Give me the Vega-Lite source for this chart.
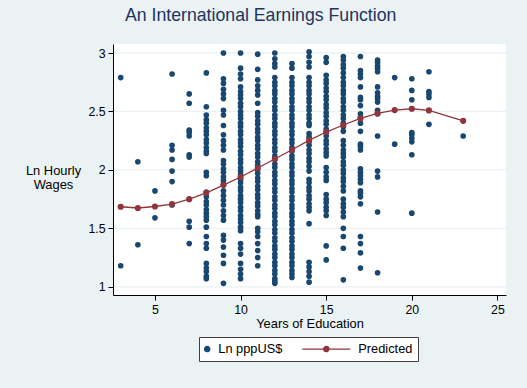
{
"$schema": "https://vega.github.io/schema/vega-lite/v6.json",
"width": 393, "height": 251,
"autosize": {"type": "none"},
"padding": {"left": 113, "top": 44, "right": 21, "bottom": 93},
"background": "#eaf2f3",
"config": {"font": "Liberation Sans", "view": {"stroke": null}},
"title": {"text": "An International Earnings Function", "anchor": "start", "frame": "group", "dx": 12, "offset": 5, "baseline": "alphabetic", "fontSize": 17.7, "fontWeight": "normal", "color": "#1c355e"},
"datasets": {
"obs": [
{"educ":3,"lnwage":2.79},{"educ":3,"lnwage":1.18},
{"educ":4,"lnwage":2.07},{"educ":4,"lnwage":1.36},
{"educ":5,"lnwage":1.82},{"educ":5,"lnwage":1.59},
{"educ":6,"lnwage":2.82},{"educ":6,"lnwage":2.21},{"educ":6,"lnwage":2.17},{"educ":6,"lnwage":2.09},{"educ":6,"lnwage":1.99},{"educ":6,"lnwage":1.90},{"educ":6,"lnwage":1.70},
{"educ":7,"lnwage":2.65},{"educ":7,"lnwage":2.57},{"educ":7,"lnwage":2.34},{"educ":7,"lnwage":2.32},{"educ":7,"lnwage":2.29},{"educ":7,"lnwage":2.13},{"educ":7,"lnwage":2.11},{"educ":7,"lnwage":1.56},{"educ":7,"lnwage":1.51},{"educ":7,"lnwage":1.37},
{"educ":8,"lnwage":2.83},{"educ":8,"lnwage":2.54},{"educ":8,"lnwage":2.47},{"educ":8,"lnwage":2.43},{"educ":8,"lnwage":2.40},{"educ":8,"lnwage":2.36},{"educ":8,"lnwage":2.33},{"educ":8,"lnwage":2.30},{"educ":8,"lnwage":2.26},{"educ":8,"lnwage":2.23},{"educ":8,"lnwage":2.19},{"educ":8,"lnwage":2.16},{"educ":8,"lnwage":2.14},{"educ":8,"lnwage":1.98},{"educ":8,"lnwage":1.95},{"educ":8,"lnwage":1.81},{"educ":8,"lnwage":1.77},{"educ":8,"lnwage":1.73},{"educ":8,"lnwage":1.70},{"educ":8,"lnwage":1.66},{"educ":8,"lnwage":1.63},{"educ":8,"lnwage":1.60},{"educ":8,"lnwage":1.57},{"educ":8,"lnwage":1.51},{"educ":8,"lnwage":1.43},{"educ":8,"lnwage":1.37},{"educ":8,"lnwage":1.33},{"educ":8,"lnwage":1.20},{"educ":8,"lnwage":1.16},{"educ":8,"lnwage":1.13},{"educ":8,"lnwage":1.09},{"educ":8,"lnwage":1.07},
{"educ":9,"lnwage":3.00},{"educ":9,"lnwage":2.78},{"educ":9,"lnwage":2.74},{"educ":9,"lnwage":2.69},{"educ":9,"lnwage":2.65},{"educ":9,"lnwage":2.61},{"educ":9,"lnwage":2.51},{"educ":9,"lnwage":2.47},{"educ":9,"lnwage":2.38},{"educ":9,"lnwage":2.30},{"educ":9,"lnwage":2.25},{"educ":9,"lnwage":2.21},{"educ":9,"lnwage":2.17},{"educ":9,"lnwage":2.08},{"educ":9,"lnwage":2.05},{"educ":9,"lnwage":2.01},{"educ":9,"lnwage":1.98},{"educ":9,"lnwage":1.94},{"educ":9,"lnwage":1.91},{"educ":9,"lnwage":1.88},{"educ":9,"lnwage":1.82},{"educ":9,"lnwage":1.78},{"educ":9,"lnwage":1.74},{"educ":9,"lnwage":1.70},{"educ":9,"lnwage":1.65},{"educ":9,"lnwage":1.61},{"educ":9,"lnwage":1.57},{"educ":9,"lnwage":1.44},{"educ":9,"lnwage":1.40},{"educ":9,"lnwage":1.34},{"educ":9,"lnwage":1.27},{"educ":9,"lnwage":1.20},{"educ":9,"lnwage":1.03},
{"educ":10,"lnwage":3.00},{"educ":10,"lnwage":2.87},{"educ":10,"lnwage":2.82},{"educ":10,"lnwage":2.78},{"educ":10,"lnwage":2.71},{"educ":10,"lnwage":2.67},{"educ":10,"lnwage":2.64},{"educ":10,"lnwage":2.61},{"educ":10,"lnwage":2.57},{"educ":10,"lnwage":2.54},{"educ":10,"lnwage":2.50},{"educ":10,"lnwage":2.47},{"educ":10,"lnwage":2.44},{"educ":10,"lnwage":2.40},{"educ":10,"lnwage":2.37},{"educ":10,"lnwage":2.33},{"educ":10,"lnwage":2.30},{"educ":10,"lnwage":2.26},{"educ":10,"lnwage":2.23},{"educ":10,"lnwage":2.20},{"educ":10,"lnwage":2.16},{"educ":10,"lnwage":2.13},{"educ":10,"lnwage":2.09},{"educ":10,"lnwage":2.06},{"educ":10,"lnwage":2.02},{"educ":10,"lnwage":1.99},{"educ":10,"lnwage":1.96},{"educ":10,"lnwage":1.92},{"educ":10,"lnwage":1.89},{"educ":10,"lnwage":1.85},{"educ":10,"lnwage":1.82},{"educ":10,"lnwage":1.78},{"educ":10,"lnwage":1.75},{"educ":10,"lnwage":1.72},{"educ":10,"lnwage":1.68},{"educ":10,"lnwage":1.65},{"educ":10,"lnwage":1.61},{"educ":10,"lnwage":1.58},{"educ":10,"lnwage":1.55},{"educ":10,"lnwage":1.51},{"educ":10,"lnwage":1.48},{"educ":10,"lnwage":1.37},{"educ":10,"lnwage":1.33},{"educ":10,"lnwage":1.28},{"educ":10,"lnwage":1.20},{"educ":10,"lnwage":1.15},{"educ":10,"lnwage":1.11},{"educ":10,"lnwage":1.07},
{"educ":11,"lnwage":2.99},{"educ":11,"lnwage":2.86},{"educ":11,"lnwage":2.77},{"educ":11,"lnwage":2.72},{"educ":11,"lnwage":2.68},{"educ":11,"lnwage":2.64},{"educ":11,"lnwage":2.57},{"educ":11,"lnwage":2.49},{"educ":11,"lnwage":2.46},{"educ":11,"lnwage":2.42},{"educ":11,"lnwage":2.39},{"educ":11,"lnwage":2.35},{"educ":11,"lnwage":2.32},{"educ":11,"lnwage":2.28},{"educ":11,"lnwage":2.25},{"educ":11,"lnwage":2.21},{"educ":11,"lnwage":2.18},{"educ":11,"lnwage":2.14},{"educ":11,"lnwage":2.11},{"educ":11,"lnwage":2.07},{"educ":11,"lnwage":2.04},{"educ":11,"lnwage":2.00},{"educ":11,"lnwage":1.97},{"educ":11,"lnwage":1.93},{"educ":11,"lnwage":1.90},{"educ":11,"lnwage":1.86},{"educ":11,"lnwage":1.83},{"educ":11,"lnwage":1.79},{"educ":11,"lnwage":1.76},{"educ":11,"lnwage":1.72},{"educ":11,"lnwage":1.69},{"educ":11,"lnwage":1.65},{"educ":11,"lnwage":1.62},{"educ":11,"lnwage":1.60},{"educ":11,"lnwage":1.50},{"educ":11,"lnwage":1.47},{"educ":11,"lnwage":1.43},{"educ":11,"lnwage":1.37},{"educ":11,"lnwage":1.31},{"educ":11,"lnwage":1.25},{"educ":11,"lnwage":1.18},
{"educ":12,"lnwage":3.00},{"educ":12,"lnwage":2.95},{"educ":12,"lnwage":2.91},{"educ":12,"lnwage":2.88},{"educ":12,"lnwage":2.79},{"educ":12,"lnwage":2.75},{"educ":12,"lnwage":2.72},{"educ":12,"lnwage":2.68},{"educ":12,"lnwage":2.65},{"educ":12,"lnwage":2.61},{"educ":12,"lnwage":2.58},{"educ":12,"lnwage":2.54},{"educ":12,"lnwage":2.51},{"educ":12,"lnwage":2.47},{"educ":12,"lnwage":2.44},{"educ":12,"lnwage":2.40},{"educ":12,"lnwage":2.37},{"educ":12,"lnwage":2.33},{"educ":12,"lnwage":2.30},{"educ":12,"lnwage":2.26},{"educ":12,"lnwage":2.23},{"educ":12,"lnwage":2.19},{"educ":12,"lnwage":2.16},{"educ":12,"lnwage":2.12},{"educ":12,"lnwage":2.09},{"educ":12,"lnwage":2.05},{"educ":12,"lnwage":2.02},{"educ":12,"lnwage":1.98},{"educ":12,"lnwage":1.95},{"educ":12,"lnwage":1.91},{"educ":12,"lnwage":1.88},{"educ":12,"lnwage":1.84},{"educ":12,"lnwage":1.81},{"educ":12,"lnwage":1.77},{"educ":12,"lnwage":1.74},{"educ":12,"lnwage":1.70},{"educ":12,"lnwage":1.67},{"educ":12,"lnwage":1.63},{"educ":12,"lnwage":1.60},{"educ":12,"lnwage":1.56},{"educ":12,"lnwage":1.53},{"educ":12,"lnwage":1.49},{"educ":12,"lnwage":1.46},{"educ":12,"lnwage":1.42},{"educ":12,"lnwage":1.39},{"educ":12,"lnwage":1.35},{"educ":12,"lnwage":1.32},{"educ":12,"lnwage":1.28},{"educ":12,"lnwage":1.25},{"educ":12,"lnwage":1.21},{"educ":12,"lnwage":1.18},{"educ":12,"lnwage":1.14},{"educ":12,"lnwage":1.11},{"educ":12,"lnwage":1.07},{"educ":12,"lnwage":1.05},{"educ":12,"lnwage":1.03},
{"educ":13,"lnwage":2.91},{"educ":13,"lnwage":2.87},{"educ":13,"lnwage":2.79},{"educ":13,"lnwage":2.75},{"educ":13,"lnwage":2.72},{"educ":13,"lnwage":2.68},{"educ":13,"lnwage":2.65},{"educ":13,"lnwage":2.61},{"educ":13,"lnwage":2.58},{"educ":13,"lnwage":2.54},{"educ":13,"lnwage":2.51},{"educ":13,"lnwage":2.47},{"educ":13,"lnwage":2.44},{"educ":13,"lnwage":2.40},{"educ":13,"lnwage":2.37},{"educ":13,"lnwage":2.33},{"educ":13,"lnwage":2.30},{"educ":13,"lnwage":2.26},{"educ":13,"lnwage":2.23},{"educ":13,"lnwage":2.19},{"educ":13,"lnwage":2.16},{"educ":13,"lnwage":2.12},{"educ":13,"lnwage":2.09},{"educ":13,"lnwage":2.05},{"educ":13,"lnwage":2.02},{"educ":13,"lnwage":1.98},{"educ":13,"lnwage":1.95},{"educ":13,"lnwage":1.91},{"educ":13,"lnwage":1.88},{"educ":13,"lnwage":1.84},{"educ":13,"lnwage":1.81},{"educ":13,"lnwage":1.77},{"educ":13,"lnwage":1.74},{"educ":13,"lnwage":1.70},{"educ":13,"lnwage":1.67},{"educ":13,"lnwage":1.63},{"educ":13,"lnwage":1.60},{"educ":13,"lnwage":1.56},{"educ":13,"lnwage":1.53},{"educ":13,"lnwage":1.49},{"educ":13,"lnwage":1.46},{"educ":13,"lnwage":1.42},{"educ":13,"lnwage":1.39},{"educ":13,"lnwage":1.35},{"educ":13,"lnwage":1.32},{"educ":13,"lnwage":1.28},{"educ":13,"lnwage":1.25},{"educ":13,"lnwage":1.21},{"educ":13,"lnwage":1.18},{"educ":13,"lnwage":1.14},{"educ":13,"lnwage":1.11},{"educ":13,"lnwage":1.08},
{"educ":14,"lnwage":3.01},{"educ":14,"lnwage":2.97},{"educ":14,"lnwage":2.92},{"educ":14,"lnwage":2.88},{"educ":14,"lnwage":2.79},{"educ":14,"lnwage":2.75},{"educ":14,"lnwage":2.72},{"educ":14,"lnwage":2.68},{"educ":14,"lnwage":2.65},{"educ":14,"lnwage":2.61},{"educ":14,"lnwage":2.58},{"educ":14,"lnwage":2.54},{"educ":14,"lnwage":2.51},{"educ":14,"lnwage":2.47},{"educ":14,"lnwage":2.44},{"educ":14,"lnwage":2.40},{"educ":14,"lnwage":2.38},{"educ":14,"lnwage":2.31},{"educ":14,"lnwage":2.28},{"educ":14,"lnwage":2.24},{"educ":14,"lnwage":2.21},{"educ":14,"lnwage":2.17},{"educ":14,"lnwage":2.14},{"educ":14,"lnwage":2.10},{"educ":14,"lnwage":2.07},{"educ":14,"lnwage":2.03},{"educ":14,"lnwage":1.99},{"educ":14,"lnwage":1.92},{"educ":14,"lnwage":1.89},{"educ":14,"lnwage":1.85},{"educ":14,"lnwage":1.82},{"educ":14,"lnwage":1.78},{"educ":14,"lnwage":1.75},{"educ":14,"lnwage":1.71},{"educ":14,"lnwage":1.68},{"educ":14,"lnwage":1.65},{"educ":14,"lnwage":1.54},{"educ":14,"lnwage":1.21},{"educ":14,"lnwage":1.17},{"educ":14,"lnwage":1.13},{"educ":14,"lnwage":1.09},{"educ":14,"lnwage":1.04},
{"educ":15,"lnwage":2.96},{"educ":15,"lnwage":2.92},{"educ":15,"lnwage":2.81},{"educ":15,"lnwage":2.77},{"educ":15,"lnwage":2.74},{"educ":15,"lnwage":2.70},{"educ":15,"lnwage":2.67},{"educ":15,"lnwage":2.63},{"educ":15,"lnwage":2.60},{"educ":15,"lnwage":2.56},{"educ":15,"lnwage":2.53},{"educ":15,"lnwage":2.49},{"educ":15,"lnwage":2.46},{"educ":15,"lnwage":2.42},{"educ":15,"lnwage":2.39},{"educ":15,"lnwage":2.35},{"educ":15,"lnwage":2.32},{"educ":15,"lnwage":2.29},{"educ":15,"lnwage":2.25},{"educ":15,"lnwage":2.22},{"educ":15,"lnwage":2.18},{"educ":15,"lnwage":2.15},{"educ":15,"lnwage":2.12},{"educ":15,"lnwage":2.02},{"educ":15,"lnwage":1.98},{"educ":15,"lnwage":1.94},{"educ":15,"lnwage":1.91},{"educ":15,"lnwage":1.79},{"educ":15,"lnwage":1.75},{"educ":15,"lnwage":1.72},{"educ":15,"lnwage":1.68},{"educ":15,"lnwage":1.65},{"educ":15,"lnwage":1.61},{"educ":15,"lnwage":1.35},{"educ":15,"lnwage":1.23},
{"educ":16,"lnwage":2.97},{"educ":16,"lnwage":2.94},{"educ":16,"lnwage":2.90},{"educ":16,"lnwage":2.87},{"educ":16,"lnwage":2.83},{"educ":16,"lnwage":2.79},{"educ":16,"lnwage":2.75},{"educ":16,"lnwage":2.72},{"educ":16,"lnwage":2.68},{"educ":16,"lnwage":2.65},{"educ":16,"lnwage":2.61},{"educ":16,"lnwage":2.58},{"educ":16,"lnwage":2.54},{"educ":16,"lnwage":2.51},{"educ":16,"lnwage":2.47},{"educ":16,"lnwage":2.44},{"educ":16,"lnwage":2.40},{"educ":16,"lnwage":2.37},{"educ":16,"lnwage":2.33},{"educ":16,"lnwage":2.25},{"educ":16,"lnwage":2.21},{"educ":16,"lnwage":2.17},{"educ":16,"lnwage":2.14},{"educ":16,"lnwage":2.11},{"educ":16,"lnwage":2.07},{"educ":16,"lnwage":2.04},{"educ":16,"lnwage":2.00},{"educ":16,"lnwage":1.97},{"educ":16,"lnwage":1.93},{"educ":16,"lnwage":1.90},{"educ":16,"lnwage":1.86},{"educ":16,"lnwage":1.82},{"educ":16,"lnwage":1.75},{"educ":16,"lnwage":1.71},{"educ":16,"lnwage":1.68},{"educ":16,"lnwage":1.64},{"educ":16,"lnwage":1.60},{"educ":16,"lnwage":1.50},{"educ":16,"lnwage":1.43},{"educ":16,"lnwage":1.33},{"educ":16,"lnwage":1.06},
{"educ":17,"lnwage":2.97},{"educ":17,"lnwage":2.85},{"educ":17,"lnwage":2.82},{"educ":17,"lnwage":2.79},{"educ":17,"lnwage":2.71},{"educ":17,"lnwage":2.62},{"educ":17,"lnwage":2.60},{"educ":17,"lnwage":2.55},{"educ":17,"lnwage":2.48},{"educ":17,"lnwage":2.45},{"educ":17,"lnwage":2.40},{"educ":17,"lnwage":2.33},{"educ":17,"lnwage":2.22},{"educ":17,"lnwage":2.20},{"educ":17,"lnwage":2.17},{"educ":17,"lnwage":2.01},{"educ":17,"lnwage":1.98},{"educ":17,"lnwage":1.95},{"educ":17,"lnwage":1.92},{"educ":17,"lnwage":1.89},{"educ":17,"lnwage":1.82},{"educ":17,"lnwage":1.80},{"educ":17,"lnwage":1.77},{"educ":17,"lnwage":1.71},{"educ":17,"lnwage":1.43},{"educ":17,"lnwage":1.37},{"educ":17,"lnwage":1.29},{"educ":17,"lnwage":1.16},
{"educ":18,"lnwage":2.94},{"educ":18,"lnwage":2.92},{"educ":18,"lnwage":2.89},{"educ":18,"lnwage":2.87},{"educ":18,"lnwage":2.84},{"educ":18,"lnwage":2.71},{"educ":18,"lnwage":2.66},{"educ":18,"lnwage":2.63},{"educ":18,"lnwage":2.61},{"educ":18,"lnwage":2.58},{"educ":18,"lnwage":2.51},{"educ":18,"lnwage":2.48},{"educ":18,"lnwage":2.29},{"educ":18,"lnwage":1.99},{"educ":18,"lnwage":1.94},{"educ":18,"lnwage":1.64},{"educ":18,"lnwage":1.12},
{"educ":19,"lnwage":2.79},{"educ":19,"lnwage":2.22},
{"educ":20,"lnwage":2.78},{"educ":20,"lnwage":2.68},{"educ":20,"lnwage":2.60},{"educ":20,"lnwage":2.32},{"educ":20,"lnwage":2.30},{"educ":20,"lnwage":2.27},{"educ":20,"lnwage":2.24},{"educ":20,"lnwage":2.13},{"educ":20,"lnwage":1.63},
{"educ":21,"lnwage":2.84},{"educ":21,"lnwage":2.67},{"educ":21,"lnwage":2.65},{"educ":21,"lnwage":2.62},{"educ":21,"lnwage":2.39},
{"educ":23,"lnwage":2.29}
],
"pred": [
{"educ":3,"lnwage":1.685},{"educ":4,"lnwage":1.674},{"educ":5,"lnwage":1.687},{"educ":6,"lnwage":1.708},{"educ":7,"lnwage":1.75},{"educ":8,"lnwage":1.804},{"educ":9,"lnwage":1.87},{"educ":10,"lnwage":1.939},{"educ":11,"lnwage":2.016},{"educ":12,"lnwage":2.093},{"educ":13,"lnwage":2.172},{"educ":14,"lnwage":2.252},{"educ":15,"lnwage":2.324},{"educ":16,"lnwage":2.384},{"educ":17,"lnwage":2.44},{"educ":18,"lnwage":2.483},{"educ":19,"lnwage":2.512},{"educ":20,"lnwage":2.523},{"educ":21,"lnwage":2.509},{"educ":23,"lnwage":2.42}
],
"ticks": [{"tick":1},{"tick":1.5},{"tick":2},{"tick":2.5},{"tick":3}]
},
"layer": [
{"data": {"name": "obs"}, "mark": {"type": "rect", "color": "#ffffff"},
 "encoding": {
  "x": {"aggregate": "min", "field": "educ", "type": "quantitative", "scale": {"domain": [2.55, 25.5], "nice": false, "zero": false}},
  "x2": {"aggregate": "max", "field": "educ"},
  "y": {"aggregate": "min", "field": "lnwage", "type": "quantitative", "scale": {"domain": [0.93, 3.077], "nice": false, "zero": false}},
  "y2": {"aggregate": "max", "field": "lnwage"}}},
{"data": {"name": "ticks"}, "mark": {"type": "rule", "color": "#ffffff", "strokeWidth": 62, "clip": true},
 "encoding": {"y": {"field": "tick", "type": "quantitative", "scale": {"domain": [0.93, 3.077], "nice": false, "zero": false}}}},
{"data": {"name": "ticks"}, "mark": {"type": "rule", "color": "#eaf2f3", "strokeWidth": 1.3},
 "encoding": {"y": {"field": "tick", "type": "quantitative", "scale": {"domain": [0.93, 3.077], "nice": false, "zero": false}}}},
{"data": {"name": "obs"}, "mark": {"type": "circle", "size": 32, "opacity": 1, "color": "#1a476f"},
 "encoding": {
  "x": {"field": "educ", "type": "quantitative", "scale": {"domain": [2.55, 25.5], "nice": false, "zero": false},
   "axis": {"values": [5, 10, 15, 20, 25], "title": "Years of Education", "grid": false, "zindex": 1, "tickSize": 5, "labelPadding": 3.5, "labelFontSize": 12.3, "labelColor": "#000000", "labelFlush": false, "labelOverlap": false, "titleFontSize": 12.9, "titleFontWeight": "normal", "titleColor": "#000000", "titleY": 32, "titleBaseline": "alphabetic", "domainColor": "#000000", "tickColor": "#000000"}},
  "y": {"field": "lnwage", "type": "quantitative", "scale": {"domain": [0.93, 3.077], "nice": false, "zero": false},
   "axis": {"values": [1, 1.5, 2, 2.5, 3], "format": "~g", "grid": false, "zindex": 1, "tickSize": 5, "labelPadding": 3, "labelFontSize": 12.3, "labelColor": "#000000", "labelFlush": false, "labelOverlap": false, "title": ["Ln Hourly", "Wages"], "titleAngle": 0, "titleX": -60, "titleY": 126, "titleAlign": "center", "titleBaseline": "middle", "titleLineHeight": 14, "titleFontSize": 12.9, "titleFontWeight": "normal", "titleColor": "#000000", "domainColor": "#000000", "tickColor": "#000000"}}}},
{"data": {"name": "pred"}, "mark": {"type": "line", "color": "#90353b", "strokeWidth": 1.3, "point": {"filled": true, "size": 38, "opacity": 1, "color": "#90353b"}},
 "encoding": {
  "x": {"field": "educ", "type": "quantitative", "scale": {"domain": [2.55, 25.5], "nice": false, "zero": false}},
  "y": {"field": "lnwage", "type": "quantitative", "scale": {"domain": [0.93, 3.077], "nice": false, "zero": false}}}},
{"data": {"name": "pred"}, "mark": {"type": "point", "filled": true, "opacity": 0},
 "encoding": {
  "x": {"field": "educ", "type": "quantitative", "scale": {"domain": [2.55, 25.5], "nice": false, "zero": false}},
  "y": {"field": "lnwage", "type": "quantitative", "scale": {"domain": [0.93, 3.077], "nice": false, "zero": false}},
  "fill": {"datum": "Predicted", "type": "nominal", "scale": {"domain": ["Ln pppUS$", "Predicted"], "range": ["#1a476f", "#90353b"]},
   "legend": {"title": null, "orient": "none", "legendX": 86, "legendY": 293, "direction": "horizontal", "columns": 2, "padding": 5, "strokeColor": "#404040", "fillColor": "#ffffff", "cornerRadius": 0, "labelFontSize": 12.8, "labelColor": "#000000", "labelOffset": 0.3, "symbolSize": 144, "symbolStrokeWidth": 1.2, "symbolOpacity": 1, "columnPadding": 16}},
  "stroke": {"datum": "Predicted", "type": "nominal", "scale": {"domain": ["Ln pppUS$", "Predicted"], "range": ["#1a476f", "#90353b"]},
   "legend": {"title": null, "orient": "none", "legendX": 86, "legendY": 293, "direction": "horizontal", "columns": 2, "padding": 5, "strokeColor": "#404040", "fillColor": "#ffffff", "cornerRadius": 0, "labelFontSize": 12.8, "labelColor": "#000000", "labelOffset": 0.3, "symbolSize": 144, "symbolStrokeWidth": 1.2, "symbolOpacity": 1, "columnPadding": 16}},
  "shape": {"datum": "Predicted", "type": "nominal", "scale": {"domain": ["Ln pppUS$", "Predicted"], "range": ["M-0.187,0A0.44,0.44,0,1,1,-1.067,0A0.44,0.44,0,1,1,-0.187,0Z", "M-8.117,0H-0.117M-3.677,0A0.44,0.44,0,1,1,-4.557,0A0.44,0.44,0,1,1,-3.677,0Z"]},
   "legend": {"title": null, "orient": "none", "legendX": 86, "legendY": 293, "direction": "horizontal", "columns": 2, "padding": 5, "strokeColor": "#404040", "fillColor": "#ffffff", "cornerRadius": 0, "labelFontSize": 12.8, "labelColor": "#000000", "labelOffset": 0.3, "symbolSize": 144, "symbolStrokeWidth": 1.2, "symbolOpacity": 1, "columnPadding": 16}}}}
]
}
